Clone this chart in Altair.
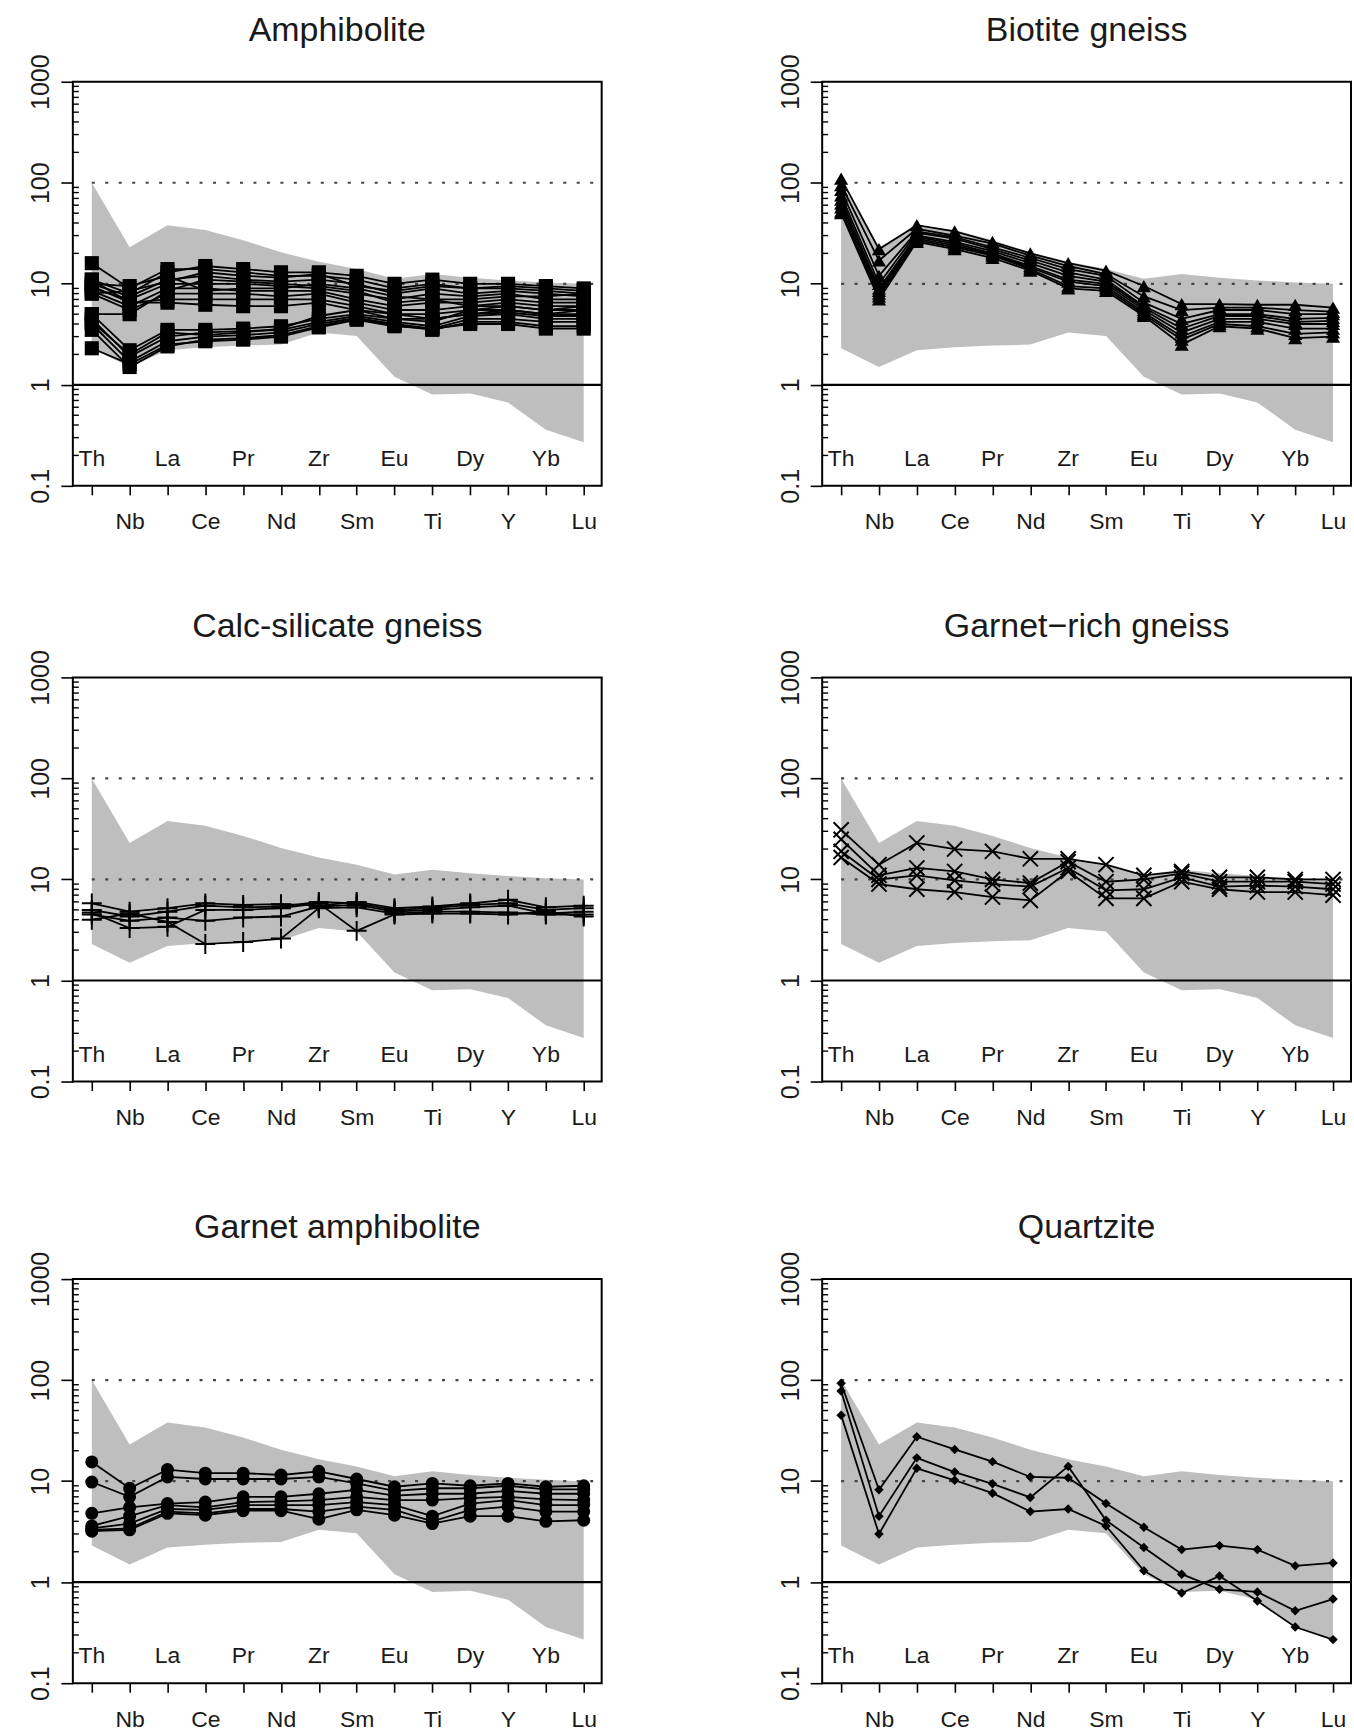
import altair as alt
import pandas as pd

# ---------------- data ----------------
ELEMENTS = ["Th", "Nb", "La", "Ce", "Pr", "Nd", "Zr", "Sm", "Eu", "Ti", "Dy", "Y", "Yb", "Lu"]
INSIDE_LABELS = ["Th", "La", "Pr", "Zr", "Eu", "Dy", "Yb"]
OUTSIDE_LABELS = ["Nb", "Ce", "Nd", "Sm", "Ti", "Y", "Lu"]

BAND_UPPER = [100, 23, 38, 34, 27, 20.5, 16.5, 14, 11.2, 12.5, 11.5, 10.8, 10.3, 10]
BAND_LOWER = [2.3, 1.5, 2.2, 2.35, 2.45, 2.5, 3.3, 3.05, 1.2, 0.8, 0.82, 0.67, 0.36, 0.27]

Y_MAJOR = [0.1, 1, 10, 100, 1000]
Y_MINOR = [m * d for d in [0.1, 1, 10, 100] for m in range(2, 10)]
DOTTED_LEVELS = [100, 10]
SOLID_LEVELS = [1]

AMPHIBOLITE = [
    [16, 9, 14, 14, 13, 12, 12, 11, 9, 10, 9, 9, 8.5, 8],
    [11, 8, 13, 15, 14, 13, 13, 12, 10, 11, 10, 10, 9.5, 9],
    [10, 7.5, 11, 12, 11, 10.5, 11, 10, 8, 9, 8, 8.5, 8, 7.5],
    [9, 7, 10, 10, 10, 9.5, 9, 8, 7, 8, 7.5, 8, 7, 7],
    [8.5, 6, 9, 9, 8.5, 8.5, 8.5, 7, 6, 6.5, 6.5, 7, 6.5, 6.5],
    [8, 5.5, 8, 8, 8, 7.5, 8, 6.5, 5.5, 5.5, 6, 6.5, 6, 6],
    [9.5, 6.5, 7, 7, 7, 7, 7, 6, 5, 5, 5.5, 6, 5.5, 5.5],
    [10, 9.5, 12, 8.5, 9, 9, 10, 9, 7.5, 7, 7, 7.5, 7.5, 8],
    [8, 8.5, 10.5, 13, 12, 11.5, 12.5, 9.5, 8.5, 9.5, 9, 9.5, 9, 8.5],
    [11, 6.5, 6.5, 6.2, 6, 6, 6.5, 5.5, 4.5, 4.5, 5, 5.5, 5, 5],
    [5, 5, 8.5, 11, 10.5, 10, 9.5, 8.5, 6.5, 7, 6, 6, 5.5, 6],
    [5, 2.2, 3.5, 3.5, 3.6, 3.8, 4.5, 5, 4.5, 4.2, 5.5, 5.5, 5, 5.5],
    [4.5, 1.9, 3.0, 3.3, 3.4, 3.5, 4.2, 4.8, 4.2, 3.8, 4.8, 5, 4.5, 4.5],
    [4, 1.7, 2.7, 3.0, 3.1, 3.3, 4, 4.6, 4, 3.6, 4.5, 4.5, 4.2, 4.2],
    [3.5, 1.5, 2.4, 2.8, 2.9, 3.1, 3.8, 4.5, 3.9, 3.5, 4.2, 4.2, 3.8, 3.8],
    [2.3, 1.6, 2.5, 2.7, 2.8, 3.0, 3.7, 4.4, 3.8, 3.6, 4, 4, 3.6, 3.6],
    [4.2, 2.0, 3.3, 3.1, 3.3, 3.6, 4.8, 5.5, 5, 4.5, 5, 5.2, 4.8, 4.8],
]

BIOTITE_GNEISS = [
    [110, 22, 38, 33, 26, 20, 16, 13.5, 9.5, 6.3, 6.3, 6.2, 6.2, 5.8],
    [95, 17, 35, 30, 25, 19, 15, 12.5, 7.5, 5.5, 5.8, 5.8, 5.5, 5.3],
    [85, 12, 33, 29, 23, 18, 14, 12, 6.5, 4.5, 5.5, 5.5, 5, 5],
    [75, 10, 32, 28, 22, 17, 13, 11, 6, 4, 5, 5, 4.5, 4.6],
    [68, 9, 30, 26, 21, 16, 12, 10.5, 5.8, 3.6, 4.8, 4.8, 4.2, 4.3],
    [62, 8.5, 29, 25, 20, 15, 11, 10, 5.5, 3.3, 4.5, 4.5, 4, 4],
    [57, 8, 28, 24, 19.5, 14.5, 10.5, 9.5, 5.2, 3, 4.2, 4.2, 3.6, 3.6],
    [52, 7.5, 27, 23, 19, 14, 9.5, 9, 5, 2.8, 4, 3.8, 3.2, 3.3],
    [50, 7, 26, 22, 18, 13.5, 9, 8.5, 4.8, 2.5, 3.8, 3.6, 2.9, 3],
]

CALC_SILICATE = [
    [5.8, 4.8, 5.2, 5.8, 5.6, 5.7, 5.5, 6.0, 5.2, 5.4, 5.8, 6.3, 5.3, 5.5],
    [5.0, 4.3, 4.8, 5.5, 5.3, 5.4, 6.0, 5.8, 5.0, 5.2, 5.6, 5.8, 5.0, 5.2],
    [4.5, 3.9, 4.2, 3.9, 4.2, 4.3, 5.4, 5.6, 4.8, 5.0, 5.3, 5.5, 4.6, 4.8],
    [4.0, 4.6, 3.8, 2.3, 2.4, 2.6, 5.2, 5.3, 4.6, 4.8, 4.8, 4.7, 4.5, 4.5],
    [4.7, 3.3, 3.4, 5.0, 5.0, 5.2, 5.8, 3.1, 4.5, 4.6, 4.6, 4.5, 4.8, 4.3],
]

GARNET_RICH_GNEISS = [
    [31, 14, 23, 20, 19, 16, 16, 14, 11, 12, 10.5, 10.5, 10, 10],
    [25, 11, 13, 12, 10, 9.2, 15, 9.5, 10, 11.5, 9.5, 9.5, 9.5, 9],
    [19, 10, 11, 9.8, 9, 8.5, 13, 7.8, 8, 10.5, 8.5, 8.7, 8.5, 8],
    [16.5, 9, 8, 7.5, 6.7, 6.2, 12, 6.5, 6.5, 9.5, 8, 7.5, 7.5, 7],
]

GARNET_AMPHIBOLITE = [
    [15.5, 8.5, 13, 12, 12, 11.5, 12.5, 10.5, 8.8, 9.5, 9, 9.5, 8.8, 9],
    [9.8, 7, 11, 10.5, 10.5, 10.5, 11, 9.5, 8, 8.5, 8.5, 9, 8.3, 8.3],
    [4.8, 5.5, 6.0, 6.2, 7, 7, 7.5, 8.2, 7.2, 7.5, 7.5, 8, 7.5, 7.5],
    [3.6, 4.5, 5.8, 5.5, 6.2, 6.3, 6.5, 7, 6.5, 6.5, 6.8, 7, 6.6, 6.5],
    [3.4, 3.8, 5.3, 5.2, 5.8, 5.8, 5.8, 6.2, 5.8, 4.5, 6, 6.5, 5.8, 5.8],
    [3.3, 3.4, 5.0, 4.8, 5.3, 5.3, 5.0, 5.6, 5.2, 4.0, 5.2, 5.6, 5.0, 5.0],
    [3.2, 3.3, 4.8, 4.6, 5.1, 5.1, 4.2, 5.2, 4.6, 3.8, 4.5, 4.5, 4.0, 4.1],
]

QUARTZITE = [
    [93, 8.2, 27.5, 20.6, 15.6, 11, 10.8, 6.0, 3.5, 2.1, 2.3, 2.1, 1.45, 1.55],
    [78, 4.5, 17, 12.3, 9.4, 6.9, 14, 4.1, 2.2, 1.2, 0.85, 0.8, 0.52, 0.68],
    [45, 3.0, 13.4, 10.2, 7.6, 5.0, 5.3, 3.6, 1.3, 0.78, 1.15, 0.65, 0.36, 0.27],
]

# ---------------- layout / style ----------------
W, H = 530, 405
FONT = "Liberation Sans"
INK = "#1a1a1a"
LEFT_PX, RIGHT_PX = 19, 18          # gap between box edges and first / last element
N = len(ELEMENTS)
unit = (N - 1) / (W - LEFT_PX - RIGHT_PX)
X_DOMAIN = [-LEFT_PX * unit, (N - 1) + RIGHT_PX * unit]

x_scale = alt.Scale(domain=X_DOMAIN, nice=False, zero=False)
y_scale = alt.Scale(type="log", domain=[0.1, 1000])

x_axis = alt.Axis(
    title=None, domain=False, grid=False, values=list(range(N)), tickSize=9,
    tickWidth=1.6, tickColor="black", labelAngle=0, labelFont=FONT, labelFontSize=23,
    labelColor=INK, labelPadding=16, labelFlush=False, labelOverlap=False,
    labelExpr="indexof(" + str(OUTSIDE_LABELS) + ", " + str(ELEMENTS)
    + "[datum.value]) >= 0 ? " + str(ELEMENTS) + "[datum.value] : ''",
)
y_axis = alt.Axis(
    title=None, domain=False, grid=False, values=Y_MAJOR, format="~g", tickSize=12,
    tickWidth=1.6, tickColor="black", labelAngle=270, labelAlign="center",
    labelBaseline="bottom", labelFont=FONT, labelFontSize=25, labelColor=INK,
    labelPadding=7, labelFlush=False, labelOverlap=False,
)


def X(field="idx"):
    return alt.X(f"{field}:Q", scale=x_scale, axis=x_axis, title=None)


def Y(field="v"):
    return alt.Y(f"{field}:Q", scale=y_scale, axis=y_axis, title=None)


band_df = pd.DataFrame({"el": ELEMENTS, "idx": range(N), "hi": BAND_UPPER, "lo": BAND_LOWER})
dotted_df = pd.DataFrame({"idx": [ELEMENTS.index("Th")] * len(DOTTED_LEVELS), "v": DOTTED_LEVELS})
solid_df = pd.DataFrame({"v": SOLID_LEVELS})
minor_df = pd.DataFrame({"v": Y_MINOR})
inside_df = pd.DataFrame({"el": INSIDE_LABELS, "idx": [ELEMENTS.index(e) for e in INSIDE_LABELS]})


def panel(title, samples, shape, size, filled):
    rows = []
    for s, vals in enumerate(samples):
        for i, (el, v) in enumerate(zip(ELEMENTS, vals)):
            rows.append({"s": s, "el": el, "idx": i, "v": v})
    df = pd.DataFrame(rows)

    band = alt.Chart(band_df).mark_area(color="#bebebe", opacity=1).encode(
        x=X(), y=Y("hi"), y2="lo")
    dotted = alt.Chart(dotted_df).mark_rule(
        color="#444444", strokeDash=[3, 10.5], strokeWidth=2.2).encode(
        x=X(), x2=alt.value(W), y=Y())
    solid = alt.Chart(solid_df).mark_rule(color="black", strokeWidth=2.2).encode(y=Y())
    minor = alt.Chart(minor_df).mark_rule(color="black", strokeWidth=1.4).encode(
        y=Y(), x=alt.value(0), x2=alt.value(6))
    lines = alt.Chart(df).mark_line(color="black", strokeWidth=1.8).encode(
        x=X(), y=Y(), detail="s:N", order="idx:Q")
    if filled:
        pts = alt.Chart(df).mark_point(shape=shape, size=size, filled=True,
                                       color="black", opacity=1)
    else:
        pts = alt.Chart(df).mark_point(shape=shape, size=size, filled=False,
                                       color="black", opacity=1, strokeWidth=2)
    pts = pts.encode(x=X(), y=Y())
    labels = alt.Chart(inside_df).mark_text(
        font=FONT, fontSize=23, color=INK, baseline="middle", align="center").encode(
        x=X(), y=alt.value(H - 27), text="el:N")

    return alt.layer(band, dotted, solid, minor, lines, pts, labels).properties(
        width=W, height=H,
        title=alt.TitleParams(text=title, fontSize=34, font=FONT, fontWeight="normal",
                              color=INK, offset=6, anchor="middle"),
    )


PLUS = "M -1 0 L 1 0 M 0 -1 L 0 1"
XSHAPE = "M -1 -1 L 1 1 M -1 1 L 1 -1"

p1 = panel("Amphibolite", AMPHIBOLITE, "square", 200, True)
p2 = panel("Biotite gneiss", BIOTITE_GNEISS, "triangle-up", 200, True)
p3 = panel("Calc-silicate gneiss", CALC_SILICATE, PLUS, 400, False)
p4 = panel("Garnet\u2212rich gneiss", GARNET_RICH_GNEISS, XSHAPE, 230, False)
p5 = panel("Garnet amphibolite", GARNET_AMPHIBOLITE, "circle", 170, True)
p6 = panel("Quartzite", QUARTZITE, "diamond", 90, True)

HSP = 173
row1 = alt.hconcat(p1, p2, spacing=HSP)
row2 = alt.hconcat(p3, p4, spacing=HSP)
row3 = alt.hconcat(p5, p6, spacing=HSP)

top_rows = alt.vconcat(row1, row2, spacing=74)
chart = alt.vconcat(top_rows, row3, spacing=80).properties(
    padding={"left": 28, "top": 11, "right": 0, "bottom": 0}
).configure_view(stroke="black", strokeWidth=2)

chart.save("out.html", embed_options={"renderer": "svg", "actions": False})
